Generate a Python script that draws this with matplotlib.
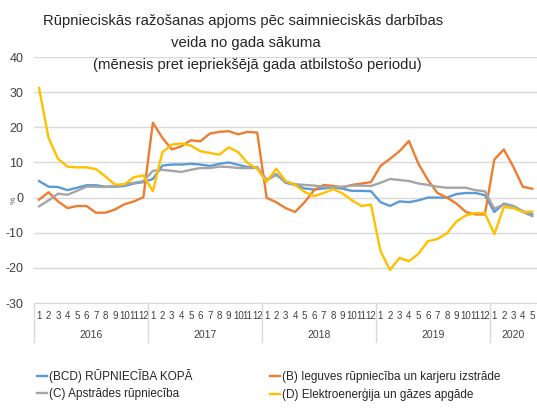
import numpy as np
import matplotlib
matplotlib.use("Agg")
import matplotlib.pyplot as plt

plt.rcParams['font.family'] = ['Liberation Sans', 'DejaVu Sans']
plt.rcParams['axes.unicode_minus'] = False

years = ['2016', '2017', '2018', '2019', '2020']
months_per_year = [12, 12, 12, 12, 5]

bcd = [4.7, 3.1, 3.0, 2.1, 2.8, 3.5, 3.5, 3.1, 3.1, 3.3, 4.0, 4.4,
       5.3, 9.1, 9.4, 9.4, 9.6, 9.4, 9.0, 9.6, 10.0, 9.3, 8.7, 8.6,
       5.0, 6.7, 4.2, 3.6, 2.6, 2.3, 2.6, 2.9, 2.5, 1.9, 1.9, 1.8,
       -1.3, -2.4, -1.1, -1.3, -0.8, 0.0, 0.0, 0.0, 1.0, 1.3, 1.3, 0.7,
       -4.1, -1.7, -2.4, -3.9, -4.8]
b = [-0.6, 1.5, -1.1, -3.0, -2.4, -2.4, -4.3, -4.3, -3.4, -1.9, -1.1, 0.1,
     21.3, 17.0, 13.7, 14.6, 16.3, 16.0, 18.2, 18.7, 18.9, 18.0, 18.7, 18.5,
     -0.1, -1.3, -3.0, -4.1, -1.3, 2.1, 3.6, 3.3, 2.9, 3.6, 4.0, 4.4,
     9.0, 11.0, 13.2, 16.1, 9.6, 5.0, 1.3, 0.0, -1.7, -4.1, -4.8, -4.8,
     10.8, 13.7, 8.8, 3.1, 2.5]
c = [-2.5, -0.8, 1.1, 0.8, 1.9, 3.1, 3.1, 3.0, 3.3, 3.8, 4.2, 4.7,
     7.6, 7.9, 7.6, 7.3, 7.9, 8.4, 8.4, 8.8, 8.7, 8.4, 8.4, 8.4,
     5.0, 6.4, 4.5, 3.8, 3.6, 3.4, 3.1, 2.9, 3.1, 3.4, 3.4, 3.3,
     4.2, 5.3, 5.0, 4.7, 4.0, 3.6, 3.1, 2.8, 2.8, 2.8, 2.1, 1.8,
     -3.2, -1.9, -2.5, -4.1, -5.3]
d = [31.2, 17.0, 11.0, 8.8, 8.6, 8.6, 8.1, 6.0, 3.7, 3.7, 5.8, 6.3,
     1.8, 12.9, 15.1, 15.4, 14.8, 13.2, 12.7, 12.2, 14.3, 12.9, 9.8, 8.2,
     4.5, 8.2, 4.7, 3.6, 1.6, 0.4, 1.3, 2.4, 1.2, -0.8, -2.4, -2.0,
     -15.2, -20.6, -17.2, -18.1, -16.0, -12.4, -11.8, -10.2, -6.8, -5.1, -4.4, -4.4,
     -10.4, -2.7, -3.0, -4.1, -4.0]

labels = ['(BCD) RŪPNIECĪBA KOPĀ', '(B) Ieguves rūpniecība un karjeru izstrāde',
          '(C) Apstrādes rūpniecība', '(D) Elektroenerģija un gāzes apgāde']
colors = ['#5B9BD5', '#ED7D31', '#A5A5A5', '#FFC000']

month_labels = []
for n in months_per_year:
    month_labels += [str(m) for m in range(1, n + 1)]
x = np.arange(len(bcd))

fig = plt.figure(figsize=(5.37, 4.16), dpi=100)
ax = fig.add_axes([34.3 / 537, 1 - 303 / 416, 1 - 34.3 / 537, 246 / 416])

lines = []
for series, col, lab in zip([bcd, b, c, d], colors, labels):
    ln, = ax.plot(x, series, color=col, lw=1.7, label=lab, solid_joinstyle='round')
    lines.append(ln)

ax.set_xlim(-0.5, len(x) - 0.5)
ax.set_ylim(-30, 40)
ax.set_yticks(range(-30, 41, 10))
ax.grid(axis='y', color='#D9D9D9', lw=1)
ax.set_axisbelow(True)
for s in ['top', 'right', 'left']:
    ax.spines[s].set_visible(False)
ax.spines['bottom'].set_color('#D9D9D9')
ax.tick_params(axis='y', length=0, labelsize=9, labelcolor='#404040', pad=8)
ax.set_xticks(x)
ax.set_xticklabels(month_labels)
ax.tick_params(axis='x', length=0, labelsize=7, labelcolor='#404040', pad=6)
fig.text(14 / 537, 1 - 200 / 416, '%', rotation=90, fontsize=6, color='#595959',
         ha='center', va='center')

# year groups
trans = ax.get_xaxis_transform()
start = 0
ax.plot([-0.5, -0.5], [0, -0.16], transform=trans, color='#D9D9D9', lw=1, clip_on=False)
for yr, n in zip(years, months_per_year):
    end = start + n
    ax.text((start + end - 1) / 2, -0.13, yr, transform=trans, ha='center', va='center',
            fontsize=7.5, color='#404040')
    if end < len(x):
        ax.plot([end - 0.5, end - 0.5], [0, -0.16], transform=trans, color='#D9D9D9',
                lw=1, clip_on=False)
    start = end

fig.text(243 / 537, 1 - 20.5 / 416, 'Rūpnieciskās ražošanas apjoms pēc saimnieciskās darbības',
         ha='center', va='center', fontsize=10.7, color='#262626')
fig.text(246 / 537, 1 - 42.5 / 416, 'veida no gada sākuma',
         ha='center', va='center', fontsize=10.7, color='#262626')
fig.text(257 / 537, 1 - 64.5 / 416, '(mēnesis pret iepriekšējā gada atbilstošo periodu)',
         ha='center', va='center', fontsize=10.7, color='#262626')

order = [lines[0], lines[2], lines[1], lines[3]]
fig.legend(order, [l.get_label() for l in order], ncol=2, frameon=False,
           loc='upper left', bbox_to_anchor=(31 / 537, 1 - 363 / 416),
           fontsize=8.5, handlelength=0.85, handletextpad=0.15, columnspacing=6.6,
           labelspacing=0.45, borderpad=0, labelcolor='#262626')

fig.savefig('out.png', dpi=100)
